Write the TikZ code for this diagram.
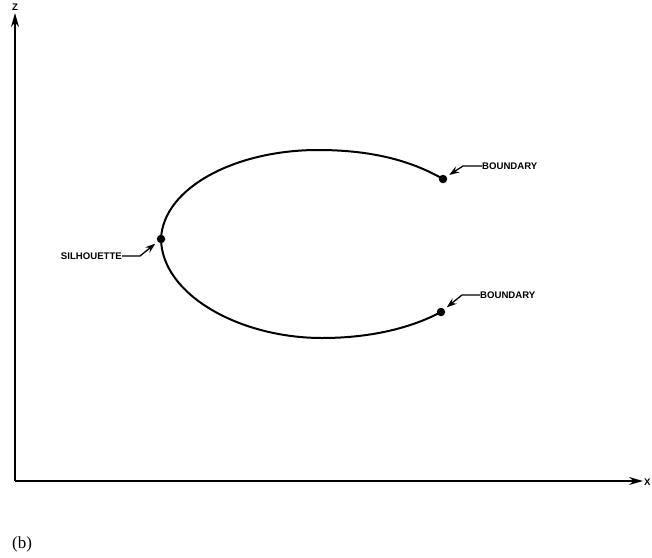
\documentclass[tikz,border=0pt]{standalone}
\usepackage{fontspec}
\newfontfamily\lbl{Liberation Sans}
\newfontfamily\capf{Liberation Serif}
\usetikzlibrary{arrows.meta}
\begin{document}
\begin{tikzpicture}[x=1pt,y=-1pt,
  lab/.style={font=\lbl\bfseries\fontsize{9.6}{10}\selectfont, inner sep=0pt, anchor=west},
  axis/.style={line width=1.4pt, -{Stealth[length=14pt,width=8pt]}},
  leader/.style={line width=1.3pt, -{Stealth[length=10pt,width=7pt]}, shorten >=3pt},
  dotn/.style={circle, fill=black, inner sep=0pt, minimum size=8.5pt}]
\useasboundingbox (0,0) rectangle (652,557);
\coordinate (O) at (15,481);
\coordinate (zend) at (15,13);
\coordinate (xend) at (643,481);
\draw[axis] (O) -- (zend);
\draw[axis] (O) -- (xend);
\node[font=\lbl\bfseries\fontsize{9.6}{10}\selectfont, inner sep=0pt] (zl) at (15,7) {Z};
\node[lab] (xl) at (644,482) {X};
% curve
\coordinate (B1) at (443,179);
\coordinate (T) at (318,150);
\coordinate (S) at (161,239);
\coordinate (Bt) at (322,338);
\coordinate (B2) at (441,312);
\draw[line width=2pt] (B1) .. controls (410,160) and (370,150) .. (T)
  .. controls (235,150) and (163,188) .. (S)
  .. controls (162,295) and (240,338) .. (Bt)
  .. controls (375,338) and (415,326) .. (B2);
\node[dotn] (d1) at (B1) {};
\node[dotn] (d2) at (B2) {};
\node[dotn] (d3) at (S) {};
% labels
\node[lab] (L1) at (482,166) {BOUNDARY};
\node[lab] (L2) at (480,295) {BOUNDARY};
\node[lab, anchor=east] (L3) at (122,256) {SILHOUETTE};
\draw[leader] (L1.west) -- ++(-19,0) -- (d1);
\draw[leader] (L2.west) -- ++(-18,0) -- (d2);
\draw[leader] (L3.east) -- ++(18,0) -- (d3);
\node[font=\capf\fontsize{17}{19}\selectfont, inner sep=0pt] (cap) at (22,544) {(b)};
\end{tikzpicture}
\end{document}
